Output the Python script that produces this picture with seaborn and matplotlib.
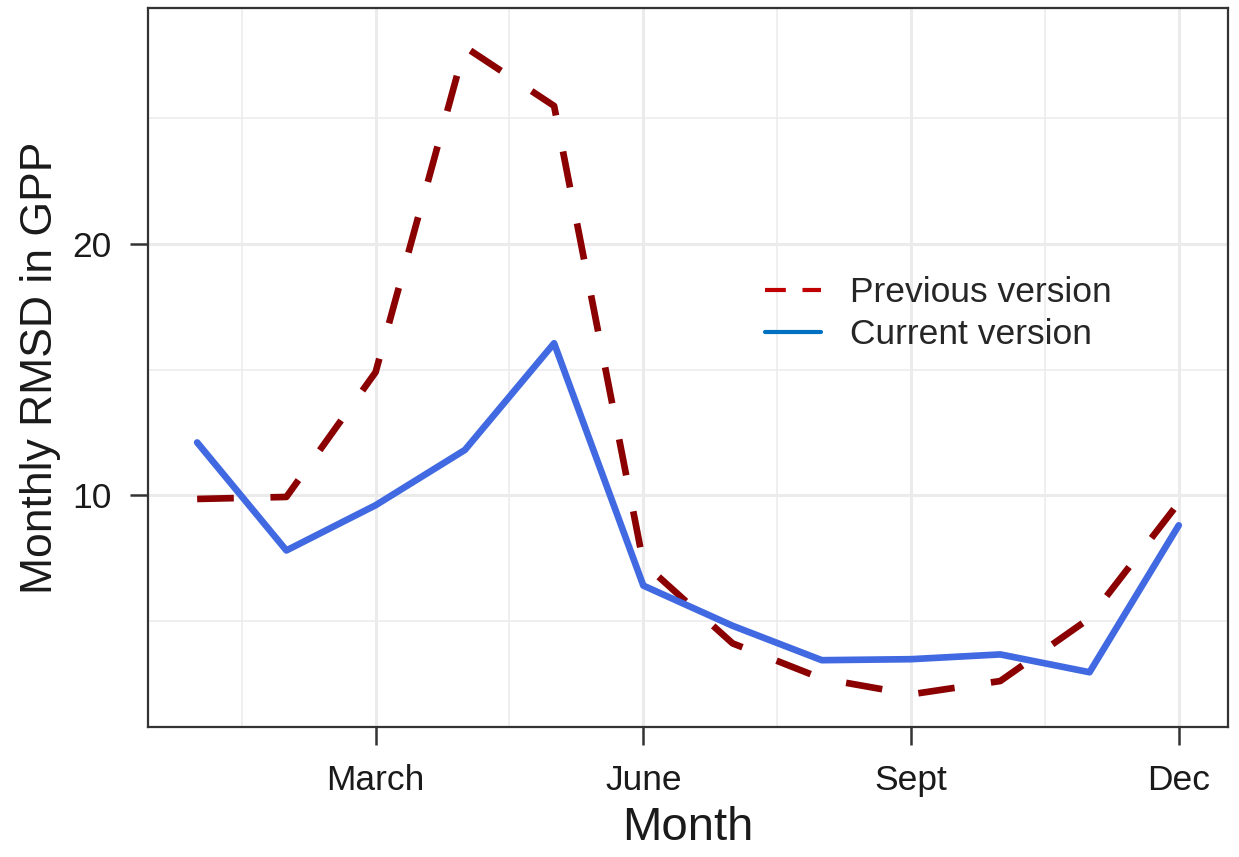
import matplotlib
matplotlib.use("Agg")
import matplotlib.pyplot as plt
from matplotlib.lines import Line2D
from matplotlib.ticker import FixedLocator
import seaborn as sns
import pandas as pd

months = [1, 2, 3, 4, 5, 6, 7, 8, 9, 10, 11, 12]
previous = [9.85, 9.93, 14.9, 27.85, 25.5, 7.3, 4.1, 2.7, 2.07, 2.6, 5.1, 9.7]
current = [12.1, 7.8, 9.6, 11.8, 16.05, 6.4, 4.8, 3.43, 3.47, 3.66, 2.95, 8.8]
tick_pos = [3, 6, 9, 12]
tick_labels = ["March", "June", "Sept", "Dec"]

df = pd.DataFrame({"month": months, "previous": previous, "current": current})

sns.set_theme(style="white")
plt.rcParams["font.family"] = ["Liberation Sans", "DejaVu Sans"]

fig = plt.figure(figsize=(12.39, 8.57), dpi=100)
ax = fig.add_axes([0.1195, 0.1517, 0.8715, 0.839])

sns.lineplot(data=df, x="month", y="previous", ax=ax, color="#8B0000",
             linewidth=4.8)
sns.lineplot(data=df, x="month", y="current", ax=ax, color="#4169E1",
             linewidth=4.8)
ax.lines[0].set_dashes((5.5, 5.5))
ax.lines[0].set_dash_capstyle("butt")

ax.set_xlim(0.45, 12.55)
ax.set_ylim(0.77, 29.4)
ax.xaxis.set_major_locator(FixedLocator(tick_pos))
ax.xaxis.set_minor_locator(FixedLocator([1.5, 4.5, 7.5, 10.5]))
ax.yaxis.set_major_locator(FixedLocator([10, 20]))
ax.yaxis.set_minor_locator(FixedLocator([5, 15, 25]))
ax.set_xticklabels(tick_labels)

ax.grid(True, which="major", color="#EBEBEB", linewidth=2.2)
ax.grid(True, which="minor", color="#EBEBEB", linewidth=1.1)
ax.set_axisbelow(True)

for s in ax.spines.values():
    s.set_color("#333333")
    s.set_linewidth(1.6)

ax.tick_params(axis="both", which="major", direction="out", length=13, width=1.8,
               color="#333333", labelsize=25.5, labelcolor="#1a1a1a",
               bottom=True, left=True)
ax.tick_params(axis="x", which="major", pad=14)
ax.tick_params(axis="y", which="major", pad=13)
ax.tick_params(axis="both", which="minor", length=0)

ax.set_xlabel("Month", fontsize=34, color="#1a1a1a", labelpad=6)
ax.set_ylabel("Monthly RMSD in GPP", fontsize=32, color="#1a1a1a", labelpad=8)

handles = [
    Line2D([0], [0], color="#C00000", linewidth=3, dashes=(5, 4)),
    Line2D([0], [0], color="#0070C0", linewidth=3),
]
ax.legend(handles, ["Previous version", "Current version"], loc="center left",
          bbox_to_anchor=(0.571, 0.575), frameon=False, fontsize=25.5,
          handlelength=1.6, handletextpad=0.8, labelspacing=0.25,
          borderpad=0, borderaxespad=0)

fig.savefig("out.png", dpi=100)
